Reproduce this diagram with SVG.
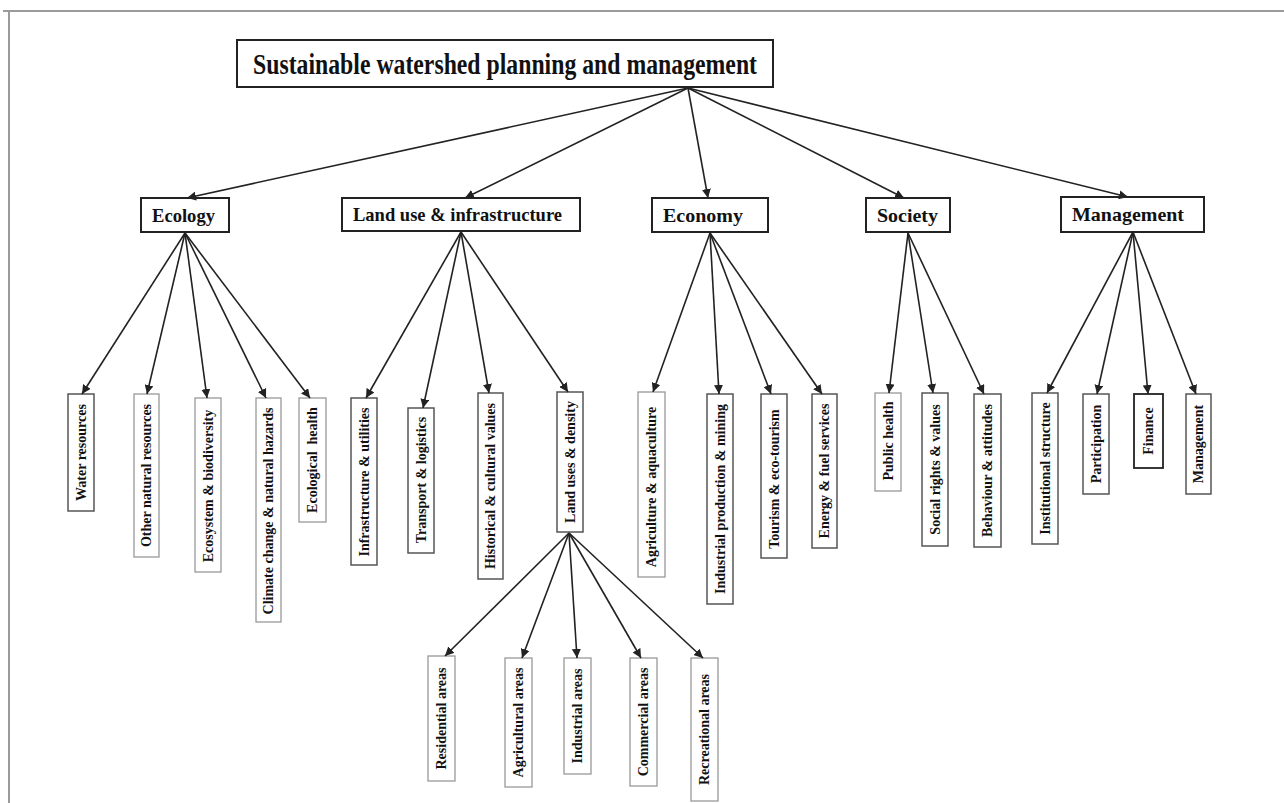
<svg xmlns="http://www.w3.org/2000/svg" width="1284" height="803" viewBox="0 0 1284 803">
<style>
.title{font-family:"Liberation Serif",serif;font-weight:bold;font-size:29px;fill:#111}
.cat{font-family:"Liberation Serif",serif;font-weight:bold;font-size:19px;fill:#111}
.leaf{font-family:"Liberation Serif",serif;font-weight:bold;font-size:14px;fill:#111}
.cbox{fill:#fff;stroke:#222;stroke-width:2}
.lbox{fill:#fff;stroke:#555;stroke-width:1.5}
.lbox2{fill:#fff;stroke:#999;stroke-width:1.3}
.conn line{stroke:#222;stroke-width:1.6;marker-end:url(#ah)}
</style>
<defs>
<marker id="ah" viewBox="0 0 10 10" refX="10" refY="5" markerWidth="9" markerHeight="9" markerUnits="userSpaceOnUse" orient="auto">
<path d="M0,0 L10,5 L0,10 z" fill="#222"/>
</marker>
</defs>
<rect width="1284" height="803" fill="#fff"/>
<path d="M3,11 H1284 M9,11 V803" stroke="#9a9a9a" stroke-width="2" fill="none"/>

<g id="title">
<rect class="cbox" x="237" y="40" width="536" height="47"/>
<text class="title" x="505" y="74" text-anchor="middle" textLength="504" lengthAdjust="spacingAndGlyphs">Sustainable watershed planning and management</text>
</g>

<g id="ecology"><rect class="cbox" x="141" y="198" width="88" height="34"/><text class="cat" x="183.5" y="222" text-anchor="middle" textLength="63" lengthAdjust="spacingAndGlyphs">Ecology</text></g>
<g id="landuse"><rect class="cbox" x="342" y="198" width="238" height="33"/><text class="cat" x="457.5" y="221" text-anchor="middle" textLength="209" lengthAdjust="spacingAndGlyphs">Land use &amp; infrastructure</text></g>
<g id="economy"><rect class="cbox" x="652" y="198" width="116" height="34"/><text class="cat" x="703" y="222" text-anchor="middle" textLength="80" lengthAdjust="spacingAndGlyphs">Economy</text></g>
<g id="society"><rect class="cbox" x="866" y="198" width="84" height="34"/><text class="cat" x="907.5" y="222" text-anchor="middle" textLength="61" lengthAdjust="spacingAndGlyphs">Society</text></g>
<g id="management"><rect class="cbox" x="1061" y="197" width="143" height="35"/><text class="cat" x="1128" y="221" text-anchor="middle" textLength="112" lengthAdjust="spacingAndGlyphs">Management</text></g>

<g id="water-resources"><rect class="lbox" x="68" y="394" width="26" height="117"/><text class="leaf" transform="translate(81,452.5) rotate(-90)" text-anchor="middle" dominant-baseline="central">Water resources</text></g>
<g id="other-natural-resources"><rect class="lbox2" x="134" y="394" width="25" height="163"/><text class="leaf" transform="translate(146.5,475.5) rotate(-90)" text-anchor="middle" dominant-baseline="central">Other natural resources</text></g>
<g id="ecosystem"><rect class="lbox2" x="195" y="398" width="26" height="174"/><text class="leaf" transform="translate(208,486) rotate(-90)" text-anchor="middle" dominant-baseline="central">Ecosystem &amp; biodiversity</text></g>
<g id="climate"><rect class="lbox2" x="256" y="398" width="25" height="224"/><text class="leaf" transform="translate(268.5,511) rotate(-90)" text-anchor="middle" dominant-baseline="central">Climate change &amp; natural hazards</text></g>
<g id="ecological-health"><rect class="lbox2" x="299" y="398" width="27" height="124"/><text class="leaf" transform="translate(312.5,460) rotate(-90)" text-anchor="middle" dominant-baseline="central" xml:space="preserve">Ecological  health</text></g>

<g id="infrastructure"><rect class="lbox" x="351" y="398" width="26" height="167"/><text class="leaf" transform="translate(364,482) rotate(-90)" text-anchor="middle" dominant-baseline="central">Infrastructure &amp; utilities</text></g>
<g id="transport"><rect class="lbox" x="408" y="408" width="26" height="145"/><text class="leaf" transform="translate(421,480) rotate(-90)" text-anchor="middle" dominant-baseline="central">Transport &amp; logistics</text></g>
<g id="historical"><rect class="lbox" x="478" y="393" width="25" height="186"/><text class="leaf" transform="translate(490.5,486) rotate(-90)" text-anchor="middle" dominant-baseline="central">Historical &amp; cultural values</text></g>
<g id="land-uses-density"><rect class="lbox" x="557" y="392" width="26" height="140"/><text class="leaf" transform="translate(570,462) rotate(-90)" text-anchor="middle" dominant-baseline="central">Land uses &amp; density</text></g>

<g id="residential"><rect class="lbox2" x="428" y="656" width="27" height="125"/><text class="leaf" transform="translate(441.5,718.5) rotate(-90)" text-anchor="middle" dominant-baseline="central">Residential areas</text></g>
<g id="agricultural"><rect class="lbox2" x="505" y="658" width="27" height="129"/><text class="leaf" transform="translate(518.5,722.5) rotate(-90)" text-anchor="middle" dominant-baseline="central">Agricultural areas</text></g>
<g id="industrial"><rect class="lbox2" x="564" y="658" width="27" height="116"/><text class="leaf" transform="translate(577.5,716) rotate(-90)" text-anchor="middle" dominant-baseline="central">Industrial areas</text></g>
<g id="commercial"><rect class="lbox2" x="630" y="658" width="27" height="128"/><text class="leaf" transform="translate(643.5,722) rotate(-90)" text-anchor="middle" dominant-baseline="central">Commercial areas</text></g>
<g id="recreational"><rect class="lbox2" x="691" y="658" width="27" height="143"/><text class="leaf" transform="translate(704.5,729.5) rotate(-90)" text-anchor="middle" dominant-baseline="central">Recreational areas</text></g>

<g id="agriculture"><rect class="lbox2" x="638" y="392" width="27" height="185"/><text class="leaf" transform="translate(651.5,487) rotate(-90)" text-anchor="middle" dominant-baseline="central">Agriculture &amp; aquaculture</text></g>
<g id="industrial-production"><rect class="lbox" x="707" y="394" width="26" height="210"/><text class="leaf" transform="translate(720,499) rotate(-90)" text-anchor="middle" dominant-baseline="central">Industrial production &amp; mining</text></g>
<g id="tourism"><rect class="lbox" x="761" y="394" width="26" height="164"/><text class="leaf" transform="translate(774,479) rotate(-90)" text-anchor="middle" dominant-baseline="central">Tourism &amp; eco-tourism</text></g>
<g id="energy"><rect class="lbox" x="812" y="394" width="25" height="154"/><text class="leaf" transform="translate(824.5,471) rotate(-90)" text-anchor="middle" dominant-baseline="central">Energy &amp; fuel services</text></g>

<g id="public-health"><rect class="lbox2" x="875" y="393" width="26" height="98"/><text class="leaf" transform="translate(888,441) rotate(-90)" text-anchor="middle" dominant-baseline="central">Public health</text></g>
<g id="social-rights"><rect class="lbox" x="922" y="393" width="26" height="153"/><text class="leaf" transform="translate(935,469.5) rotate(-90)" text-anchor="middle" dominant-baseline="central">Social rights &amp; values</text></g>
<g id="behaviour"><rect class="lbox" x="974" y="394" width="27" height="153"/><text class="leaf" transform="translate(987.5,470.5) rotate(-90)" text-anchor="middle" dominant-baseline="central">Behaviour &amp; attitudes</text></g>

<g id="institutional"><rect class="lbox" x="1032" y="393" width="26" height="151"/><text class="leaf" transform="translate(1045,468.5) rotate(-90)" text-anchor="middle" dominant-baseline="central">Institutional structure</text></g>
<g id="participation"><rect class="lbox" x="1083" y="394" width="26" height="100"/><text class="leaf" transform="translate(1096,444) rotate(-90)" text-anchor="middle" dominant-baseline="central">Participation</text></g>
<g id="finance"><rect class="cbox" x="1134" y="394" width="29" height="74" style="stroke-width:1.8"/><text class="leaf" transform="translate(1148.5,431) rotate(-90)" text-anchor="middle" dominant-baseline="central">Finance</text></g>
<g id="management-leaf"><rect class="lbox" x="1186" y="394" width="25" height="100"/><text class="leaf" transform="translate(1198.5,444) rotate(-90)" text-anchor="middle" dominant-baseline="central">Management</text></g>

<g id="connectors" class="conn">
<line x1="688" y1="88" x2="187" y2="198"/>
<line x1="688" y1="88" x2="465" y2="198"/>
<line x1="688" y1="88" x2="708" y2="198"/>
<line x1="688" y1="88" x2="904" y2="198"/>
<line x1="688" y1="88" x2="1128" y2="197"/>

<line x1="185" y1="233" x2="82" y2="394"/>
<line x1="185" y1="233" x2="147" y2="394"/>
<line x1="185" y1="233" x2="207" y2="398"/>
<line x1="185" y1="233" x2="266" y2="398"/>
<line x1="185" y1="233" x2="310" y2="398"/>

<line x1="461" y1="232" x2="366" y2="398"/>
<line x1="461" y1="232" x2="423" y2="408"/>
<line x1="461" y1="232" x2="489" y2="393"/>
<line x1="461" y1="232" x2="568" y2="392"/>

<line x1="569" y1="533" x2="445" y2="656"/>
<line x1="569" y1="533" x2="522" y2="658"/>
<line x1="569" y1="533" x2="577" y2="658"/>
<line x1="569" y1="533" x2="641" y2="658"/>
<line x1="569" y1="533" x2="703" y2="658"/>

<line x1="710" y1="233" x2="653" y2="392"/>
<line x1="710" y1="233" x2="719" y2="394"/>
<line x1="710" y1="233" x2="771" y2="394"/>
<line x1="710" y1="233" x2="822" y2="394"/>

<line x1="908" y1="233" x2="889" y2="393"/>
<line x1="908" y1="233" x2="933" y2="393"/>
<line x1="908" y1="233" x2="984" y2="394"/>

<line x1="1133" y1="232" x2="1047" y2="393"/>
<line x1="1133" y1="232" x2="1097" y2="394"/>
<line x1="1133" y1="232" x2="1148" y2="394"/>
<line x1="1133" y1="232" x2="1196" y2="394"/>
</g>
</svg>
